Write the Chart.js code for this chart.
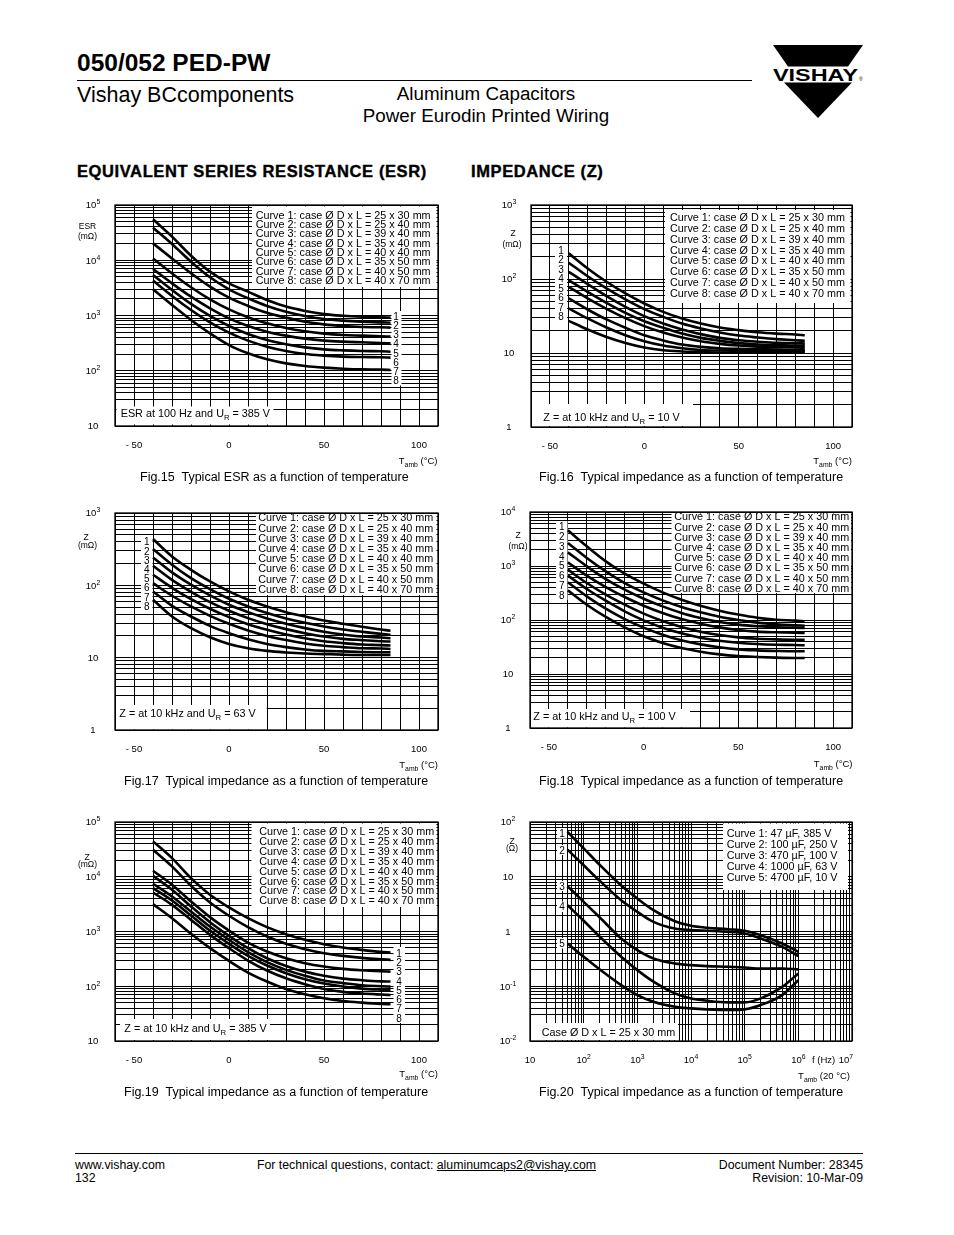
<!DOCTYPE html>
<html>
<head>
<meta charset="utf-8">
<title>050/052 PED-PW</title>
<script src="https://cdn.jsdelivr.net/npm/chart.js@4.4.1/dist/chart.umd.min.js"></script>
<style>
  html, body { margin: 0; padding: 0; background: #fff; }
  body { position: relative; width: 954px; height: 1235px; overflow: hidden;
         font-family: "Liberation Sans", Arial, Helvetica, sans-serif; color: #000; }
  .t { position: absolute; white-space: pre; line-height: 1; }
  .rule { position: absolute; background: #000; height: 1.3px; }
  .head { font-weight: bold; -webkit-text-stroke: 0.4px #000; letter-spacing: 0.6px; }
  canvas { position: absolute; }
</style>
</head>
<body>
<svg style="position:absolute;left:0;top:0" width="954" height="130">
  <polygon points="773,45 863,45 848,66.5 788,66.5" fill="#000"/>
  <text x="773" y="80.5" font-family="Liberation Sans, Arial" font-weight="bold" font-size="16" textLength="85" lengthAdjust="spacingAndGlyphs">VISHAY</text>
  <text x="859" y="80.5" font-family="Liberation Sans, Arial" font-size="5">®</text>
  <polygon points="784,82.5 852,82.5 818,118" fill="#000"/>
</svg>
<script>
// x points of the curves
const tempC = [-40, -30, -20, -10, 0, 10, 20, 30, 40, 50, 60, 70, 80, 85];
const freqHz = [50, 100, 200, 500, 1e3, 2e3, 5e3, 1e4, 2e4, 5e4, 1e5, 2e5, 5e5, 1e6];

const caseCurves = [
  'Curve 1: case Ø D x L = 25 x 30 mm',
  'Curve 2: case Ø D x L = 25 x 40 mm',
  'Curve 3: case Ø D x L = 39 x 40 mm',
  'Curve 4: case Ø D x L = 35 x 40 mm',
  'Curve 5: case Ø D x L = 40 x 40 mm',
  'Curve 6: case Ø D x L = 35 x 50 mm',
  'Curve 7: case Ø D x L = 40 x 50 mm',
  'Curve 8: case Ø D x L = 40 x 70 mm'
];
const fig20Curves = [
  'Curve 1: 47 µF, 385 V',
  'Curve 2: 100 µF, 250 V',
  'Curve 3: 470 µF, 100 V',
  'Curve 4: 1000 µF, 63 V',
  'Curve 5: 4700 µF, 10 V'
];

// fig.15  ESR (mOhm), curves 1..8
const fig15Esr = [
  [55100, 26700, 12100, 6220, 3820, 2700, 1910, 1450, 1210, 1060, 990, 950, 930, 915],
  [38900, 19700, 9420, 4910, 2980, 2050, 1490, 1170, 980, 865, 807, 773, 752, 741],
  [20200, 10800, 5800, 3330, 2100, 1490, 1120, 915, 773, 692, 646, 620, 611, 603],
  [10800, 5800, 3240, 1960, 1290, 927, 722, 594, 517, 469, 444, 432, 420, 414],
  [6950, 3820, 2190, 1350, 889, 646, 510, 432, 381, 351, 336, 327, 318, 313],
  [5410, 2900, 1620, 980, 646, 463, 360, 301, 265, 244, 234, 228, 225, 221],
  [4280, 2260, 1260, 752, 489, 351, 273, 228, 201, 188, 180, 177, 175, 173],
  [2980, 1550, 830, 476, 292, 207, 161, 136, 122, 114, 109, 106, 105, 103]
];
// fig.16  Z (mOhm) at 10 kHz, 10 V
const fig16Z = [
  [222, 139, 91.8, 63.8, 46.7, 36.0, 29.3, 25.0, 22.1, 20.4, 19.1, 18.3, 17.8, 17.4],
  [166, 109, 74.5, 52.9, 39.1, 30.8, 25.0, 21.4, 18.9, 17.2, 16.2, 15.4, 14.9, 14.6],
  [125, 85.3, 58.7, 42.1, 31.5, 25.0, 20.8, 18.0, 16.0, 14.9, 14.2, 13.7, 13.6, 13.4],
  [96.6, 67.1, 47.6, 34.9, 26.9, 21.9, 18.3, 16.0, 14.6, 13.6, 13.0, 12.8, 12.6, 12.5],
  [78.5, 54.6, 39.5, 29.6, 23.1, 18.9, 16.2, 14.4, 13.3, 12.6, 12.2, 12.0, 11.9, 11.7],
  [54.6, 38.7, 28.4, 21.9, 17.4, 14.8, 13.0, 12.1, 11.6, 11.4, 11.3, 11.1, 11.0, 10.9],
  [40.0, 29.3, 22.1, 17.4, 14.4, 12.6, 11.6, 11.0, 10.8, 10.7, 10.6, 10.6, 10.6, 10.6],
  [27.2, 20.8, 16.5, 13.7, 11.9, 10.9, 10.5, 10.3, 10.1, 10.1, 10.1, 10.1, 10.1, 10.1]
];
// fig.17  Z (mOhm) at 10 kHz, 63 V
const fig17Z = [
  [436, 251, 164, 113, 82.4, 63.1, 51.1, 42.6, 37.1, 32.6, 29.4, 26.7, 24.5, 23.5],
  [318, 193, 126, 88.7, 65.2, 51.1, 41.3, 34.8, 30.3, 27.0, 24.5, 22.8, 21.3, 20.7],
  [243, 151, 102, 72.5, 53.8, 42.6, 34.8, 29.4, 25.6, 22.8, 20.9, 19.6, 19.0, 18.6],
  [187, 119, 81.5, 58.6, 44.5, 35.2, 29.0, 24.8, 21.8, 19.6, 18.2, 17.5, 16.9, 16.7],
  [140, 92.5, 64.4, 47.4, 36.3, 29.0, 24.3, 20.9, 18.6, 16.9, 15.9, 15.2, 14.9, 14.7],
  [107, 71.8, 51.1, 37.9, 29.4, 23.8, 20.0, 17.5, 15.7, 14.6, 14.0, 13.5, 13.4, 13.2],
  [82.4, 52.1, 37.1, 27.5, 21.8, 18.0, 15.5, 14.0, 13.0, 12.4, 12.2, 12.0, 11.9, 11.9],
  [63.1, 37.1, 25.6, 19.2, 15.5, 13.5, 12.4, 11.8, 11.4, 11.2, 11.0, 10.9, 10.9, 10.9]
];
// fig.18  Z (mOhm) at 10 kHz, 100 V
const fig18Z = [
  [4570, 2310, 1220, 721, 471, 325, 238, 184, 149, 126, 110, 101, 97.2, 94.5],
  [2670, 1410, 797, 484, 325, 231, 174, 139, 115, 100, 89.3, 83.2, 79.7, 78.5],
  [1790, 986, 574, 365, 248, 179, 135, 109, 91.8, 82.0, 76.4, 73.1, 72.1, 71.1],
  [1170, 662, 408, 267, 184, 135, 104, 85.5, 73.1, 65.3, 60.8, 59.2, 58.2, 57.4],
  [855, 484, 294, 192, 131, 95.7, 74.1, 60.8, 52.7, 47.7, 45.1, 43.8, 43.2, 43.2],
  [662, 375, 228, 145, 98.6, 72.1, 56.6, 47.1, 41.4, 38.0, 36.0, 34.9, 34.4, 34.0],
  [499, 274, 162, 104, 72.1, 53.5, 42.0, 35.4, 31.2, 28.6, 27.4, 26.7, 26.3, 26.3],
  [354, 192, 114, 73.1, 49.9, 37.5, 30.3, 25.9, 23.1, 21.5, 20.7, 20.1, 19.8, 19.8]
];
// fig.19  Z (mOhm) at 10 kHz, 385 V
const fig19Z = [
  [44300, 21900, 9450, 4690, 2750, 1750, 1200, 893, 704, 586, 510, 462, 425, 413],
  [31200, 15500, 6840, 3390, 1940, 1200, 811, 595, 475, 402, 359, 330, 312, 303],
  [12900, 7150, 3540, 1830, 1040, 629, 431, 325, 264, 229, 208, 196, 188, 185],
  [10400, 5780, 2870, 1480, 834, 496, 325, 235, 185, 155, 138, 129, 123, 122],
  [7450, 4370, 2320, 1230, 704, 419, 275, 199, 155, 127, 114, 104, 100, 98.6],
  [6210, 3690, 1960, 1040, 595, 359, 239, 173, 134, 112, 98.6, 90.6, 86.9, 85.7],
  [5160, 3070, 1630, 869, 496, 295, 194, 140, 109, 89.3, 78.8, 73.5, 70.5, 69.3],
  [3160, 1750, 906, 496, 290, 178, 122, 89.3, 71.4, 60.3, 53.9, 50.2, 47.5, 46.9]
];
// fig.20  Z (Ohm) versus frequency
const fig20Z = [
  [65.8, 33.1, 16.4, 6.90, 4.00, 2.45, 1.54, 1.27, 1.17, 1.10, 1.03, 0.857, 0.604, 0.426],
  [31.3, 16.2, 8.39, 3.73, 2.29, 1.50, 1.13, 1.06, 1.03, 0.986, 0.920, 0.745, 0.525, 0.355],
  [6.72, 3.48, 1.80, 0.745, 0.457, 0.322, 0.261, 0.243, 0.233, 0.227, 0.220, 0.211, 0.211, 0.203],
  [3.02, 1.57, 0.800, 0.345, 0.197, 0.121, 0.074, 0.060, 0.0544, 0.0507, 0.0507, 0.060, 0.0972, 0.171],
  [0.604, 0.345, 0.203, 0.105, 0.069, 0.0521, 0.0423, 0.0394, 0.0378, 0.0368, 0.0378, 0.0454, 0.069, 0.129]
];

// tick labels
const tempTicks = [-50, 0, 50, 100];
const tempTickText = ['- 50', '0', '50', '100'];
const yTicks5 = [10, 100, 1e3, 1e4, 1e5];
const yText5 = ['10', '10^{2}', '10^{3}', '10^{4}', '10^{5}'];
const yTicks3 = [1, 10, 100, 1e3];
const yText3 = ['1', '10', '10^{2}', '10^{3}'];
const yTicks4 = [1, 10, 100, 1e3, 1e4];
const yText4 = ['1', '10', '10^{2}', '10^{3}', '10^{4}'];
const fig20YTicks = [0.01, 0.1, 1, 10, 100];
const fig20YText = ['10^{-2}', '10^{-1}', '1', '10', '10^{2}'];
const fig20XTicks = [10, 100, 1e3, 1e4, 1e5, 1e6];
const fig20XText = ['10', '10^{2}', '10^{3}', '10^{4}', '10^{5}', '10^{6}'];

const FONT = '"Liberation Sans", Arial, Helvetica, sans-serif';

function decadeGrid(lo, hi) {
  const out = [];
  for (let e = lo; e < hi; e++)
    for (let m = 1; m < 10; m++) out.push(+(m * Math.pow(10, e)).toPrecision(3));
  out.push(+Math.pow(10, hi).toPrecision(3));
  return out;
}
function linGrid(lo, hi, step) {
  const out = [];
  for (let v = lo; v <= hi; v += step) out.push(v);
  return out;
}

// tiny rich text: _{sub} and ^{sup}
function parseRich(s) {
  const parts = [], re = /([_^])\{([^}]*)\}/g;
  let last = 0, m;
  while ((m = re.exec(s))) {
    if (m.index > last) parts.push([s.slice(last, m.index), 0]);
    parts.push([m[2], m[1] === '_' ? 1 : -1]);
    last = re.lastIndex;
  }
  if (last < s.length) parts.push([s.slice(last), 0]);
  return parts;
}
function drawRich(ctx, s, x, y, fs, align) {
  const parts = parseRich(s);
  const sizes = parts.map(p => p[1] ? fs * 0.72 : fs);
  let w = 0;
  const widths = parts.map((p, i) => {
    ctx.font = sizes[i] + 'px ' + FONT;
    const ww = ctx.measureText(p[0]).width;
    w += ww;
    return ww;
  });
  let cx = align === 'center' ? x - w / 2 : align === 'right' ? x - w : x;
  ctx.textAlign = 'left';
  ctx.textBaseline = 'alphabetic';
  const base = y + fs * 0.36;
  parts.forEach((p, i) => {
    ctx.font = sizes[i] + 'px ' + FONT;
    const dy = p[1] === 1 ? fs * 0.3 : p[1] === -1 ? -fs * 0.42 : 0;
    ctx.fillText(p[0], cx, base + dy);
    cx += widths[i];
  });
}

function overlay(spec) {
  const ox = spec.box[0], oy = spec.box[1];
  return {
    id: 'pageBits',
    beforeDatasetsDraw(chart) {
      const ctx = chart.ctx;
      ctx.save();
      ctx.translate(-ox, -oy);
      ctx.fillStyle = '#fff';
      spec.white.forEach(b => ctx.fillRect(b[0], b[1], b[2] - b[0], b[3] - b[1]));
      ctx.restore();
    },
    afterDraw(chart) {
      const ctx = chart.ctx, a = chart.chartArea;
      const xs = chart.scales.x, ys = chart.scales.y;
      ctx.save();
      ctx.strokeStyle = '#000';
      ctx.lineWidth = 1.3;
      ctx.strokeRect(a.left, a.top, a.right - a.left, a.bottom - a.top);
      ctx.fillStyle = '#000';
      spec.yTicks.forEach((v, i) => drawRich(ctx, spec.yText[i], a.left - 22, ys.getPixelForValue(v), 9.5, 'center'));
      spec.xTicks.forEach((v, i) => drawRich(ctx, spec.xText[i], xs.getPixelForValue(v), a.bottom + 19, 9.5, 'center'));
      ctx.translate(-ox, -oy);
      spec.texts.forEach(t => drawRich(ctx, t[0], t[1], t[2], t[3], t[4] || 'left'));
      const lg = spec.legend;
      lg.lines.forEach((s, i) => drawRich(ctx, s, lg.x, lg.y + i * lg.dy, 10.8, 'left'));
      spec.nums.forEach((y, i) => drawRich(ctx, String(i + 1), spec.numX, y, 10, 'center'));
      ctx.restore();
    }
  };
}

function makeChart(spec) {
  const cv = document.createElement('canvas');
  cv.width = spec.box[2];
  cv.height = spec.box[3];
  cv.style.left = spec.box[0] + 'px';
  cv.style.top = spec.box[1] + 'px';
  document.body.appendChild(cv);
  const p = spec.plot;
  const pad = {
    left: p[0] - spec.box[0],
    top: p[1] - spec.box[1],
    right: spec.box[0] + spec.box[2] - p[2],
    bottom: spec.box[1] + spec.box[3] - p[3]
  };
  const grid = { color: '#000', lineWidth: 1, drawTicks: false };
  const xGrid = spec.xLog ? decadeGrid(1, 7) : linGrid(-60, 110, 10);
  new Chart(cv, {
    type: 'line',
    data: {
      datasets: spec.series.map(vals => ({
        data: vals.map((v, i) => ({ x: spec.xs[i], y: v })),
        borderColor: '#000',
        borderWidth: 2.6,
        pointRadius: 0,
        fill: false,
        cubicInterpolationMode: 'monotone'
      }))
    },
    options: {
      responsive: false,
      animation: false,
      events: [],
      layout: { padding: pad },
      plugins: { legend: { display: false }, tooltip: { enabled: false } },
      scales: {
        x: {
          type: spec.xLog ? 'logarithmic' : 'linear',
          min: spec.xLog ? 10 : -60,
          max: spec.xLog ? 1e7 : 110,
          grid: grid,
          border: { display: false },
          ticks: { display: false },
          afterBuildTicks: s => { s.ticks = xGrid.map(v => ({ value: v })); },
          afterFit: s => { s.height = 0; }
        },
        y: {
          type: 'logarithmic',
          min: spec.yMin,
          max: spec.yMax,
          grid: grid,
          border: { display: false },
          ticks: { display: false },
          afterBuildTicks: s => { s.ticks = spec.yGrid.map(v => ({ value: v })); },
          afterFit: s => { s.width = 0; }
        }
      }
    },
    plugins: [overlay(spec)]
  });
}

function numsFrom(y0, dy, n) {
  const out = [];
  for (let k = 0; k < n; k++) out.push(y0 + k * dy);
  return out;
}

// Fig.15
makeChart({
  box: [75, 190, 375, 285], plot: [115, 205, 438, 426],
  xs: tempC, series: fig15Esr, yMin: 10, yMax: 1e5, yGrid: decadeGrid(1, 5),
  yTicks: yTicks5, yText: yText5, xTicks: tempTicks, xText: tempTickText,
  white: [[252, 206.5, 436.5, 287], [116.5, 406.5, 273.5, 424.5], [391.5, 311, 401.5, 385.5]],
  legend: { lines: caseCurves, x: 255.7, y: 215, dy: 9.3 },
  nums: numsFrom(316, 9.24, 8), numX: 396,
  texts: [
    ['ESR', 87.5, 225.5, 8.5, 'center'], ['(mΩ)', 87.5, 236, 8.5, 'center'],
    ['T_{amb} (°C)', 437.5, 461, 9.5, 'right'],
    ['ESR at 100 Hz and U_{R} = 385 V', 120.7, 413.3, 10.8]
  ]
});
// Fig.16
makeChart({
  box: [490, 190, 375, 285], plot: [531, 205, 852, 427],
  xs: tempC, series: fig16Z, yMin: 1, yMax: 1e3, yGrid: decadeGrid(0, 3),
  yTicks: yTicks3, yText: yText3, xTicks: tempTicks, xText: tempTickText,
  white: [[665, 210, 850.5, 303], [532, 404, 693, 426], [555, 244, 567, 321]],
  legend: { lines: caseCurves, x: 670, y: 217.3, dy: 10.8 },
  nums: numsFrom(250, 9.5, 8), numX: 561,
  texts: [
    ['Z', 513, 233, 8.5, 'center'], ['(mΩ)', 512, 244, 8.5, 'center'],
    ['T_{amb} (°C)', 852, 461, 9.5, 'right'],
    ['Z = at 10 kHz and U_{R} = 10 V', 543.3, 416.7, 10.8]
  ]
});
// Fig.17
makeChart({
  box: [75, 498, 375, 285], plot: [115, 513, 438, 730],
  xs: tempC, series: fig17Z, yMin: 1, yMax: 1e3, yGrid: decadeGrid(0, 3),
  yTicks: yTicks3, yText: yText3, xTicks: tempTicks, xText: tempTickText,
  white: [[256, 514, 436.5, 595], [116, 705, 266.7, 729.5], [141, 536, 152.5, 610.5]],
  legend: { lines: caseCurves, x: 258.3, y: 517.5, dy: 10.2 },
  nums: numsFrom(541.7, 9.2, 8), numX: 146.7,
  texts: [
    ['Z', 86, 536.7, 8.5, 'center'], ['(mΩ)', 87.5, 544.5, 8.5, 'center'],
    ['T_{amb} (°C)', 438, 765, 9.5, 'right'],
    ['Z = at 10 kHz and U_{R} = 63 V', 119.3, 713.3, 10.8]
  ]
});
// Fig.18
makeChart({
  box: [490, 498, 375, 285], plot: [530, 512, 852, 728],
  xs: tempC, series: fig18Z, yMin: 1, yMax: 1e4, yGrid: decadeGrid(0, 4),
  yTicks: yTicks4, yText: yText4, xTicks: tempTicks, xText: tempTickText,
  white: [[671.5, 513.5, 851, 593], [531, 709, 690, 727.5], [556, 521, 567.5, 600]],
  legend: { lines: caseCurves, x: 674.3, y: 516.5, dy: 10.2 },
  nums: numsFrom(526.7, 9.75, 8), numX: 561.7,
  texts: [
    ['Z', 518, 535, 8.5, 'center'], ['(mΩ)', 518, 546, 8.5, 'center'],
    ['T_{amb} (°C)', 852.5, 764, 9.5, 'right'],
    ['Z = at 10 kHz and U_{R} = 100 V', 533.3, 716, 10.8]
  ]
});
// Fig.19
makeChart({
  box: [75, 808, 375, 285], plot: [115, 822, 438, 1041],
  xs: tempC, series: fig19Z, yMin: 10, yMax: 1e5, yGrid: decadeGrid(1, 5),
  yTicks: yTicks5, yText: yText5, xTicks: tempTicks, xText: tempTickText,
  white: [[251.5, 823.5, 436.5, 907], [120, 1019, 270, 1040], [393.5, 947, 405, 1023]],
  legend: { lines: caseCurves, x: 259.3, y: 831.5, dy: 9.85 },
  nums: numsFrom(953, 9.3, 8), numX: 399,
  texts: [
    ['Z', 87, 856.7, 8.5, 'center'], ['(mΩ)', 87.5, 864, 8.5, 'center'],
    ['T_{amb} (°C)', 438, 1074, 9.5, 'right'],
    ['Z = at 10 kHz and U_{R} = 385 V', 124.3, 1028.3, 10.8]
  ]
});
// Fig.20
makeChart({
  box: [490, 808, 375, 285], plot: [530, 822, 852, 1041], xLog: true,
  xs: freqHz, series: fig20Z, yMin: 0.01, yMax: 100, yGrid: decadeGrid(-2, 2),
  yTicks: fig20YTicks, yText: fig20YText, xTicks: fig20XTicks, xText: fig20XText,
  white: [[723, 823.5, 848, 890], [531, 1023, 678, 1040],
          [557, 828, 567, 838.5], [557, 845, 567, 855], [557, 881, 567, 891],
          [557, 901.5, 567, 912], [557, 938, 567, 948.5]],
  legend: { lines: fig20Curves, x: 726.7, y: 833.5, dy: 10.9 },
  nums: [833.3, 850, 886, 906.7, 943.3], numX: 562,
  texts: [
    ['Z', 512, 841, 8.5, 'center'], ['(Ω)', 512, 848, 8.5, 'center'],
    ['f (Hz)', 812, 1060, 9.5], ['10^{7}', 853, 1060, 9.5, 'right'],
    ['T_{amb} (20 °C)', 850, 1076, 9.5, 'right'],
    ['Case Ø D x L = 25 x 30 mm', 541.7, 1031.7, 10.8]
  ]
});

// page text
function put(html, x, base, fs, cls, align) {
  const d = document.createElement('div');
  d.className = 't' + (cls ? ' ' + cls : '');
  d.innerHTML = html;
  d.style.fontSize = fs + 'px';
  d.style.top = (base - 0.8465 * fs) + 'px';
  if (align === 'right') d.style.right = (954 - x) + 'px';
  else if (align === 'center') { d.style.left = (x - 250) + 'px'; d.style.width = '500px'; d.style.textAlign = 'center'; }
  else d.style.left = x + 'px';
  document.body.appendChild(d);
}
function rule(x1, x2, y) {
  const d = document.createElement('div');
  d.className = 'rule';
  d.style.left = x1 + 'px';
  d.style.width = (x2 - x1) + 'px';
  d.style.top = y + 'px';
  document.body.appendChild(d);
}

put('<b>050/052 PED-PW</b>', 77, 72, 24.5);
rule(77, 752, 80);
put('Vishay BCcomponents', 77, 103, 21.5);
put('Aluminum Capacitors', 486, 101, 18.8, '', 'center');
put('Power Eurodin Printed Wiring', 486, 122.5, 18.8, '', 'center');
put('EQUIVALENT SERIES RESISTANCE (ESR)', 77, 176.7, 16.5, 'head');
put('IMPEDANCE (Z)', 471, 176.7, 16.5, 'head');

put('Fig.15  Typical ESR as a function of temperature', 140, 481.5, 12.5);
put('Fig.16  Typical impedance as a function of temperature', 539, 481.5, 12.5);
put('Fig.17  Typical impedance as a function of temperature', 124, 785.5, 12.5);
put('Fig.18  Typical impedance as a function of temperature', 539, 785.5, 12.5);
put('Fig.19  Typical impedance as a function of temperature', 124, 1096.5, 12.5);
put('Fig.20  Typical impedance as a function of temperature', 539, 1096.5, 12.5);

rule(75, 863, 1153);
put('www.vishay.com', 75, 1169.5, 12.3);
put('132', 75, 1182, 12.3);
put('For technical questions, contact: <u>aluminumcaps2@vishay.com</u>', 257, 1169.5, 12.3);
put('Document Number: 28345', 863, 1169.5, 12.3, '', 'right');
put('Revision: 10-Mar-09', 863, 1182, 12.3, '', 'right');
</script>
</body>
</html>
